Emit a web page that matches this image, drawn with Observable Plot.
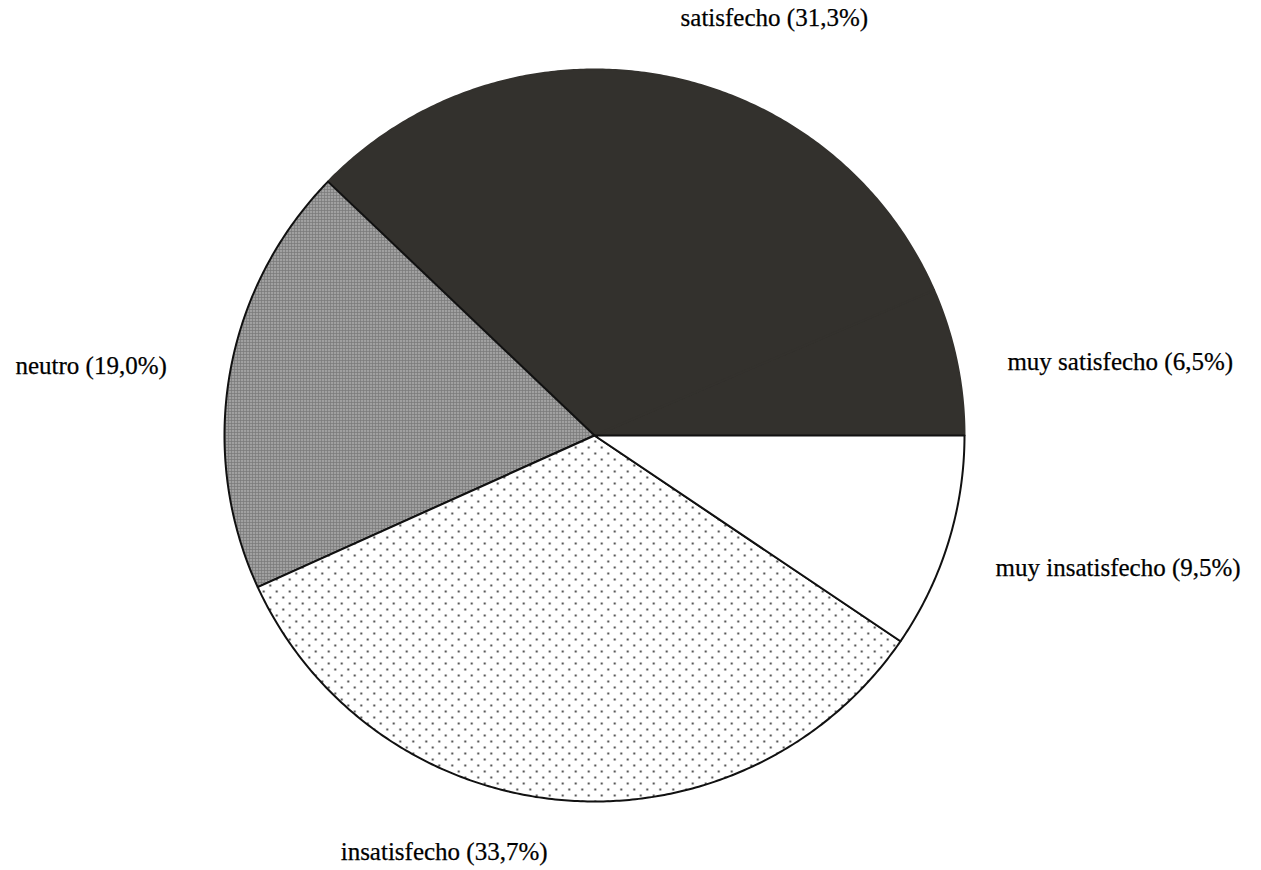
<!DOCTYPE html>
<html><head><meta charset="utf-8">
<script src="https://cdn.jsdelivr.net/npm/d3@7"></script>
<script src="https://cdn.jsdelivr.net/npm/@observablehq/plot@0.6"></script>
<style>html,body{margin:0;padding:0;background:#fff;} svg{display:block}</style>
</head><body><div id="chart"></div>
<script>
// ---- data ----
const categories = ["muy satisfecho", "satisfecho", "neutro", "insatisfecho", "muy insatisfecho"];
const percents = [6.5, 31.3, 19.0, 33.7, 9.5];
const labelTexts = ["muy satisfecho (6,5%)", "satisfecho (31,3%)", "neutro (19,0%)", "insatisfecho (33,7%)", "muy insatisfecho (9,5%)"];

// ---- styles / layout ----
const sliceFill = ["#33312d", "#33312d", "url(#pat-neutro)", "url(#pat-insat)", "#ffffff"];
const sliceStroke = ["#33312d", "#33312d", "#111111", "#111111", "#111111"];
// label anchors in pie-radius units (x right, y up), relative to pie centre
const labelX = [1.116, 0.486, -1.565, -0.686, 1.084];
const labelY = [0.202, 1.142, 0.189, -1.139, -0.361];
const labelAnchor = ["start", "middle", "start", "start", "start"];

const W = 1261, H = 870;
const cx = 594, cy = 435, rx = 370, ry = 366;

// ---- build slice polygons (counter-clockwise from 3 o'clock) ----
const total = d3.sum(percents);
const ends = Array.from(d3.cumsum(percents));
const pts = [];
categories.forEach((cat, i) => {
  const a0 = (ends[i] - percents[i]) / total * 2 * Math.PI;
  const a1 = ends[i] / total * 2 * Math.PI;
  const n = Math.max(4, Math.ceil((a1 - a0) / (Math.PI / 360)));
  pts.push({cat, i, x: 0, y: 0});
  for (let k = 0; k <= n; k++) {
    const a = a0 + (a1 - a0) * k / n;
    pts.push({cat, i, x: Math.cos(a), y: Math.sin(a)});
  }
});

const labels = categories.map((c, i) => ({text: labelTexts[i], x: labelX[i], y: labelY[i], anchor: labelAnchor[i]}));

const textStyle = {fontFamily: "Liberation Serif", fontSize: 25, fill: "#000", stroke: "#000", strokeWidth: 0.25};

const chart = Plot.plot({
  width: W, height: H,
  margin: 0,
  x: {domain: [-cx / rx, (W - cx) / rx], axis: null},
  y: {domain: [(cy - H) / ry, cy / ry], axis: null},
  color: {type: "identity"},
  style: {background: "#fff"},
  marks: [
    Plot.line(pts, {
      x: "x", y: "y", z: "cat",
      fill: d => sliceFill[d.i],
      stroke: d => sliceStroke[d.i],
      strokeWidth: 2,
      curve: "linear-closed",
      strokeLinejoin: "round"
    }),
    Plot.text(labels.filter(d => d.anchor === "middle"), {
      x: "x", y: "y", text: "text", textAnchor: "middle", ...textStyle
    }),
    Plot.text(labels.filter(d => d.anchor === "start"), {
      x: "x", y: "y", text: "text", textAnchor: "start", ...textStyle
    })
  ]
});

// patterns
const ns = "http://www.w3.org/2000/svg";
const defs = document.createElementNS(ns, "defs");
defs.innerHTML = `
  <pattern id="pat-neutro" patternUnits="userSpaceOnUse" width="3" height="3">
    <rect width="3" height="3" fill="#7c7c7c"/>
    <circle cx="1.5" cy="1.5" r="0.75" fill="#ececec"/>
  </pattern>
  <pattern id="pat-insat" patternUnits="userSpaceOnUse" width="13" height="12">
    <rect width="13" height="12" fill="#ffffff"/>
    <circle cx="3.25" cy="3" r="1" fill="#111"/>
    <circle cx="9.75" cy="9" r="1" fill="#111"/>
  </pattern>`;
chart.insertBefore(defs, chart.firstChild);
document.getElementById("chart").appendChild(chart);
</script>
</body></html>
